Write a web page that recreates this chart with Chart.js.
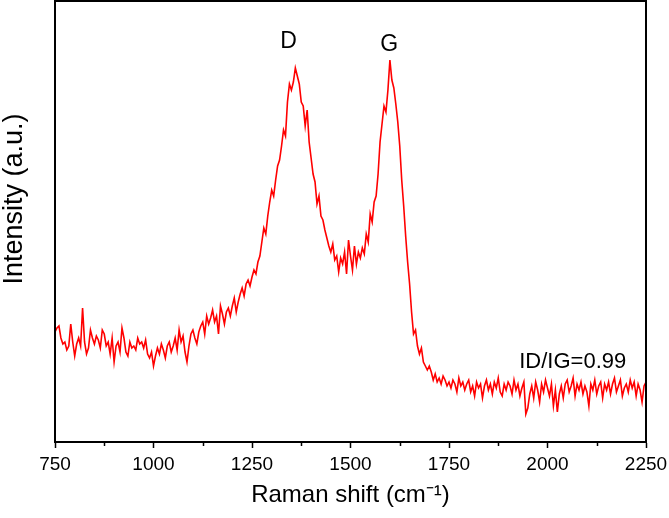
<!DOCTYPE html>
<html>
<head>
<meta charset="utf-8">
<script src="https://cdn.jsdelivr.net/npm/chart.js@4"></script>
<style>
  html, body { margin: 0; padding: 0; background: #ffffff; }
  #wrap { width: 669px; height: 518px; position: relative; }
</style>
</head>
<body>
<div id="wrap"><canvas id="c" width="669" height="518"></canvas></div>
<script>
// Raman shift axis (cm^-1), spectrum sampled every 5 cm^-1
const shiftStart = 750;
const shiftStep = 5;
const intensity = [
  110,114,116,104,98,100,92,96,118,100,
  86,98,104,96,134,100,88,94,112,104,
  98,106,102,94,112,108,96,100,88,104,
  80,96,100,90,114,104,90,86,100,94,
  96,92,104,98,100,94,102,88,84,90,
  76,86,94,88,98,92,84,96,100,90,
  96,104,92,112,100,106,90,80,96,108,
  112,104,98,110,116,120,108,126,118,124,
  132,120,126,108,136,128,118,130,134,126,
  136,144,130,140,148,154,146,158,162,156,
  165,172,168,180,186,200,214,208,226,240,
  252,246,262,276,282,296,312,306,340,358,
  352,360,374,366,358,340,336,316,332,300,
  284,268,260,238,246,226,222,212,204,196,
  190,198,182,186,170,184,178,190,168,202,
  186,172,196,178,190,184,194,188,208,200,
  228,220,240,246,268,300,318,336,330,352,
  382,362,354,338,320,296,262,236,206,180,
  158,130,108,112,96,88,94,80,76,72,
  76,70,62,68,60,64,58,66,62,56,
  60,54,62,58,50,64,56,60,52,58,
  62,50,56,46,60,54,58,44,56,62,
  52,58,48,60,54,64,50,46,58,52,
  60,56,48,62,52,58,46,54,60,28,
  34,48,56,44,60,52,40,58,50,62,
  54,46,58,36,52,30,48,56,44,58,
  62,50,56,64,46,58,52,60,48,56,
  50,36,58,52,62,48,56,60,44,58,
  52,60,48,58,64,50,56,62,46,54,
  58,50,62,54,60,46,58,52,40,56,
  60
];
const shifts = intensity.map((_, i) => shiftStart + i * shiftStep);
const xTickValues = [750, 1000, 1250, 1500, 1750, 2000, 2250];
const xMinorTicks = [875, 1125, 1375, 1625, 1875, 2125];
const peakLabels = ['D', 'G'];
const peakLabelX = [1343, 1598];
const peakLabelY = [400, 397];
const ratioLabel = 'ID/IG=0.99';
const ratioLabelX = 2064;
const ratioLabelY = 80;
const yTitleText = 'Intensity (a.u.)';

const FONT = "'Liberation Sans', Arial, sans-serif";

const points = shifts.map((x, i) => ({ x: x, y: intensity[i] }));

const framePlugin = {
  id: 'frame',
  afterDraw(chart) {
    const ctx = chart.ctx;
    const a = chart.chartArea;
    const xs = chart.scales.x;
    const ys = chart.scales.y;
    ctx.save();
    // minor ticks
    ctx.strokeStyle = '#000';
    ctx.lineWidth = 1.5;
    xMinorTicks.forEach(v => {
      const px = Math.round(xs.getPixelForValue(v)) + 0.5;
      ctx.beginPath();
      ctx.moveTo(px, a.bottom);
      ctx.lineTo(px, a.bottom + 4);
      ctx.stroke();
    });
    // frame
    ctx.lineWidth = 2;
    ctx.strokeRect(a.left, a.top, a.right - a.left, a.bottom - a.top);
    // annotations
    ctx.fillStyle = '#000';
    ctx.textAlign = 'center';
    ctx.textBaseline = 'middle';
    ctx.font = '23px ' + FONT;
    peakLabels.forEach((t, i) => {
      ctx.fillText(t, xs.getPixelForValue(peakLabelX[i]), ys.getPixelForValue(peakLabelY[i]));
    });
    ctx.font = '22px ' + FONT;
    ctx.fillText(ratioLabel, xs.getPixelForValue(ratioLabelX), ys.getPixelForValue(ratioLabelY));
    // y axis title
    ctx.translate(15, 199);
    ctx.rotate(-Math.PI / 2);
    ctx.font = '27px ' + FONT;
    ctx.fillText(yTitleText, 0, 0);
    ctx.restore();
  }
};

new Chart(document.getElementById('c'), {
  type: 'line',
  data: {
    datasets: [{
      data: points,
      borderColor: '#ff0000',
      borderWidth: 1.6,
      pointRadius: 0,
      tension: 0,
      fill: false
    }]
  },
  options: {
    responsive: false,
    animation: false,
    events: [],
    layout: { padding: { top: 1, right: 23, left: 0, bottom: 0 } },
    plugins: { legend: { display: false }, tooltip: { enabled: false } },
    scales: {
      x: {
        type: 'linear',
        min: 750,
        max: 2250,
        afterBuildTicks(scale) { scale.ticks = xTickValues.map(v => ({ value: v })); },
        afterFit(scale) { scale.height = 76; scale.paddingRight = 0; scale.paddingLeft = 0; },
        grid: { display: true, drawOnChartArea: false, drawTicks: true, tickLength: 6, color: '#000', tickWidth: 1.5 },
        border: { display: true, color: '#000', width: 2 },
        ticks: { color: '#000', font: { family: FONT, size: 19 }, padding: 5, maxRotation: 0, autoSkip: false,
                 callback: (v) => String(v) },
        title: { display: true, text: 'Raman shift (cm\u207B\u00B9)', color: '#000', font: { family: FONT, size: 24 }, padding: { top: 0, bottom: 8 } }
      },
      y: {
        type: 'linear',
        min: 0,
        max: 441,
        afterFit(scale) { scale.width = 55; },
        grid: { display: false, drawTicks: false },
        border: { display: true, color: '#000', width: 2 },
        ticks: { display: false },
        title: { display: false }
      }
    }
  },
  plugins: [framePlugin]
});
</script>
</body>
</html>
